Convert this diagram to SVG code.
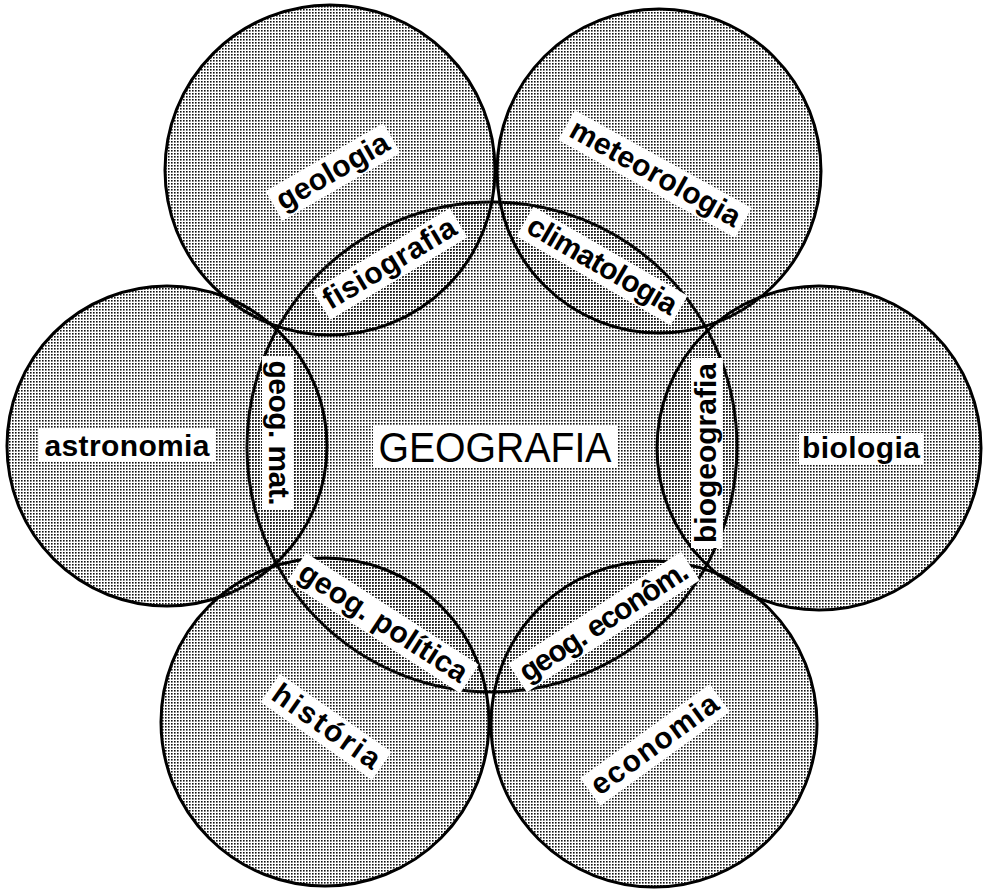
<svg xmlns="http://www.w3.org/2000/svg" width="983" height="891" viewBox="0 0 983 891">
<defs>
<pattern id="dots" patternUnits="userSpaceOnUse" width="3" height="3">
<rect x="0" y="0" width="1.6" height="1.6" fill="#111"/>
</pattern>
<style>
.c{fill:url(#dots);stroke:#000;stroke-width:3}
.b{fill:#fff}
.t{font-family:"Liberation Sans",Arial,sans-serif;font-weight:bold;font-size:30px;fill:#000;text-anchor:middle}
.big{font-family:"Liberation Sans",Arial,sans-serif;font-size:42px;fill:#000;text-anchor:middle}
</style>
</defs>
<rect width="983" height="891" fill="#fff"/>
<g id="geografia">
<circle class="c" cx="492" cy="447" r="245"/>
<rect class="b" x="373" y="425" width="244" height="42"/>
<text class="big" x="495" y="462" textLength="233" lengthAdjust="spacingAndGlyphs">GEOGRAFIA</text>
</g>
<g id="geologia">
<circle class="c" cx="330" cy="170" r="165"/>
<g transform="translate(333,172) rotate(-30)"><rect class="b" x="-68" y="-17" width="136" height="34"/><text class="t" x="0" y="9" textLength="125" lengthAdjust="spacing">geologia</text></g>
</g>
<g id="meteorologia">
<circle class="c" cx="659" cy="171" r="162"/>
<g transform="translate(655,174) rotate(29)"><rect class="b" x="-101" y="-17" width="202" height="34"/><text class="t" x="0" y="9" textLength="190" lengthAdjust="spacing">meteorologia</text></g>
</g>
<g id="astronomia">
<circle class="c" cx="167" cy="446" r="160"/>
<g transform="translate(127,445)"><rect class="b" x="-88" y="-16" width="176" height="32"/><text class="t" x="0" y="11" textLength="165" lengthAdjust="spacing">astronomia</text></g>
</g>
<g id="biologia">
<circle class="c" cx="819" cy="448" r="162"/>
<g transform="translate(861,449)"><rect class="b" x="-62" y="-16" width="124" height="32"/><text class="t" x="0" y="9" textLength="118" lengthAdjust="spacing">biologia</text></g>
</g>
<g id="historia">
<circle class="c" cx="325" cy="722" r="164"/>
<g transform="translate(326,727) rotate(35)"><rect class="b" x="-68" y="-17" width="136" height="34"/><text class="t" x="0" y="9" textLength="125" lengthAdjust="spacing">história</text></g>
</g>
<g id="economia">
<circle class="c" cx="654" cy="724" r="163"/>
<g transform="translate(655,745) rotate(-36)"><rect class="b" x="-80" y="-17" width="160" height="34"/><text class="t" x="0" y="9" textLength="150" lengthAdjust="spacing">economia</text></g>
</g>
<g id="intersections">
<g transform="translate(390,264) rotate(-31)"><rect class="b" x="-80" y="-17" width="160" height="34"/><text class="t" x="0" y="9" textLength="150" lengthAdjust="spacing">fisiografia</text></g>
<g transform="translate(602,266) rotate(30)"><rect class="b" x="-89" y="-17" width="178" height="34"/><text class="t" x="0" y="9" textLength="168" lengthAdjust="spacing">climatologia</text></g>
<g transform="translate(278,433) rotate(90)"><rect class="b" x="-77" y="-16" width="154" height="32"/><text class="t" x="0" y="9" textLength="145" lengthAdjust="spacing">geog. mat.</text></g>
<g transform="translate(707,453) rotate(-90)"><rect class="b" x="-95" y="-16" width="190" height="32"/><text class="t" x="0" y="9" textLength="180" lengthAdjust="spacing">biogeografia</text></g>
<g transform="translate(383,623) rotate(33)"><rect class="b" x="-103" y="-17" width="206" height="34"/><text class="t" x="0" y="9" textLength="195" lengthAdjust="spacing">geog. política</text></g>
<g transform="translate(604,622) rotate(-33)"><rect class="b" x="-103" y="-17" width="206" height="34"/><text class="t" x="0" y="9" textLength="195" lengthAdjust="spacing">geog. econôm.</text></g>
</g>
</svg>
